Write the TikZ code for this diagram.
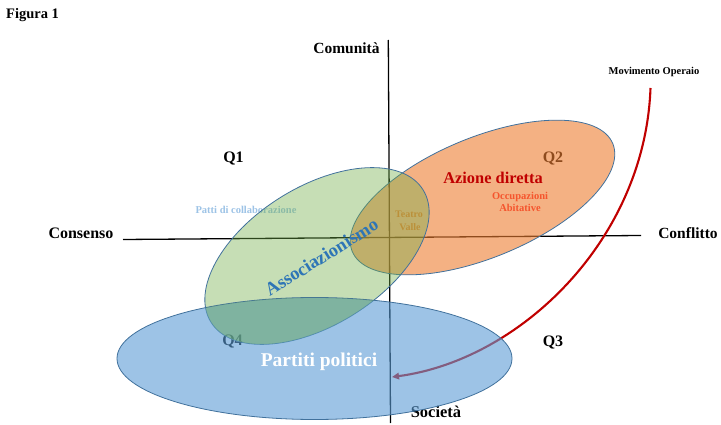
\documentclass[tikz,border=0pt]{standalone}
\usepackage{fontspec}
\setmainfont{Liberation Serif}
\usetikzlibrary{arrows.meta}
\definecolor{darkred}{HTML}{C00000}
\definecolor{orfill}{HTML}{ED7D31}
\definecolor{grfill}{HTML}{70AD47}
\definecolor{blfill}{HTML}{5B9BD5}
\definecolor{edgeblue}{HTML}{41719C}
\definecolor{assocblue}{HTML}{2E75B6}
\definecolor{pattiblue}{HTML}{9DC3E6}
\definecolor{occred}{RGB}{245,85,45}
\newcommand\fsz[1]{\fontsize{#1}{#1}\selectfont}
\begin{document}
\begin{tikzpicture}[x=1pt,y=1pt,
  lbl/.style={inner sep=0pt, anchor=base},
  axisline/.style={line width=1.3pt, black},
  blob/.style={draw=edgeblue, line width=0.8pt},
  arrowline/.style={line width=2.1pt, darkred, -{Triangle[length=7pt,width=6.5pt]}}]
\useasboundingbox (0,0) rectangle (721,-425);
% axes
\coordinate (ctop) at (388.3,-40);
\coordinate (cbot) at (390.5,-423);
\coordinate (cleft) at (123,-239.5);
\coordinate (cright) at (641,-235.5);
\draw[axisline] (cleft) -- (cright);
\draw[axisline] (ctop) -- (cbot);
% labels beneath the shapes
\node[lbl, anchor=base west, font=\bfseries\fsz{14.5}] (fig) at (6,-18.3) {Figura 1};
\node[lbl, font=\bfseries\fsz{15.5}] (comunita) at (346.5,-53.3) {Comunità};
\node[lbl, font=\bfseries\fsz{10.5}] (movop) at (654,-75) {Movimento Operaio};
\node[lbl, font=\bfseries\fsz{16}] (consenso) at (81,-238.3) {Consenso};
\node[lbl, font=\bfseries\fsz{15.5}] (conflitto) at (688,-238.3) {Conflitto};
\node[lbl, font=\bfseries\fsz{16.5}] (societa) at (436,-417.5) {Società};
\node[lbl, font=\bfseries\fsz{16}] (q1) at (233.5,-162.5) {Q1};
\node[lbl, font=\bfseries\fsz{16}] (q2) at (553,-162.3) {Q2};
\node[lbl, font=\bfseries\fsz{16}] (q3) at (553,-346) {Q3};
\node[lbl, font=\bfseries\fsz{16}] (q4) at (232.5,-345) {Q4};
\node[lbl, font=\bfseries\fsz{10.5}, text=pattiblue] (patti) at (246,-214) {Patti di collaborazione};
\node[lbl, font=\bfseries\fsz{10}, text=orfill] (teatro) at (409,-217.3) {Teatro};
\node[lbl, font=\bfseries\fsz{10}, text=orfill] (valle) at (410,-230) {Valle};
% arrow
\coordinate (mo) at (650.5,-88);
\coordinate (tip) at (392,-377);
\draw[arrowline] (mo) .. controls (645,-240) and (520,-360) .. (tip);
% ellipses
\draw[blob, fill=orfill, fill opacity=0.6, rotate around={22.5:(482.5,-197.5)}] (482.5,-197.5) ellipse (141 and 60);
\draw[blob, fill=grfill, fill opacity=0.4, rotate around={32:(317,-256)}] (317,-256) ellipse (125 and 69);
\draw[blob, fill=blfill, fill opacity=0.6] (314.5,-358.5) ellipse (197.5 and 61);
% tint of the green/blue overlap
\begin{scope}
  \clip (314.5,-358.5) ellipse (197.5 and 61);
  \fill[grfill, fill opacity=0.3, rotate around={32:(317,-256)}] (317,-256) ellipse (125 and 69);
\end{scope}
% labels on top
\node[lbl, font=\bfseries\fsz{16.4}, text=darkred] (azione) at (493,-183.3) {Azione diretta};
\node[lbl, font=\bfseries\fsz{10.5}, text=occred] (occ) at (520,-199.3) {Occupazioni};
\node[lbl, font=\bfseries\fsz{10.5}, text=occred] (abit) at (520,-212) {Abitative};
\node[inner sep=0pt, rotate=32, font=\bfseries\fsz{18.5}, text=assocblue] (assoc) at (321.5,-257) {Associazionismo};
\node[lbl, font=\bfseries\fsz{19.5}, text=white] (partiti) at (319,-366) {Partiti politici};
\end{tikzpicture}
\end{document}
